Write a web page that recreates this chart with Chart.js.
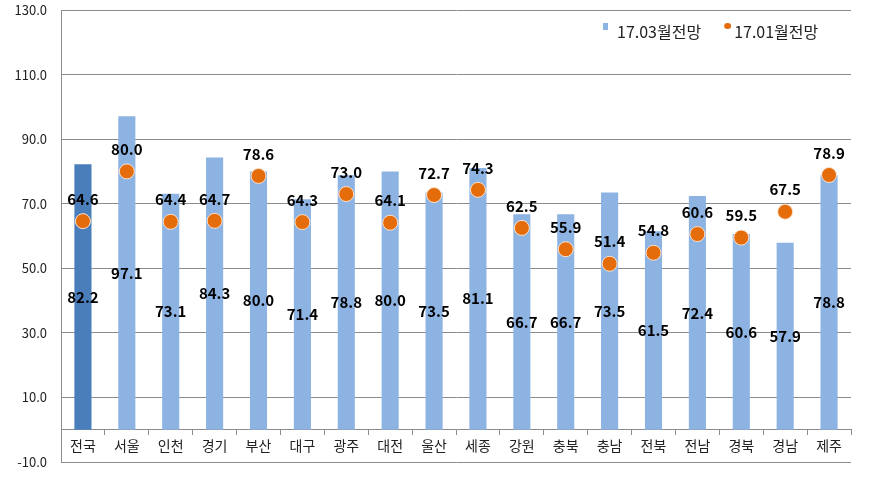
<!DOCTYPE html>
<html>
<head>
<meta charset="utf-8">
<script src="https://cdn.jsdelivr.net/npm/chart.js@4/dist/chart.umd.min.js"></script>
<style>
  html, body { margin: 0; padding: 0; background: #fff; }
  #wrap { position: relative; width: 869px; height: 504px; }
</style>
</head>
<body>
<div id="wrap"><canvas id="chart"></canvas></div>
<script>
const regions = ['전국', '서울', '인천', '경기', '부산', '대구', '광주', '대전', '울산', '세종', '강원', '충북', '충남', '전북', '전남', '경북', '경남', '제주'];
const outlook1703 = [82.2, 97.1, 73.1, 84.3, 80.0, 71.4, 78.8, 80.0, 73.5, 81.1, 66.7, 66.7, 73.5, 61.5, 72.4, 60.6, 57.9, 78.8];
const outlook1701 = [64.6, 80.0, 64.4, 64.7, 78.6, 64.3, 73.0, 64.1, 72.7, 74.3, 62.5, 55.9, 51.4, 54.8, 60.6, 59.5, 67.5, 78.9];
const yTicks = [-10, 10, 30, 50, 70, 90, 110, 130];

const FONT = "'Noto Sans CJK KR', 'Malgun Gothic', sans-serif";
const GRID = '#8c8c8c';
const BAR = '#8db3e2';
const BAR_FIRST = '#4a7ebb';
const DOT = '#e46c0a';

// value labels: bars in the middle, dots above the marker
const valueLabels = {
  id: 'valueLabels',
  afterDatasetsDraw(chart) {
    const ctx = chart.ctx;
    ctx.save();
    ctx.font = 'bold 15px ' + FONT;
    ctx.fillStyle = '#000';
    ctx.textAlign = 'center';
    ctx.textBaseline = 'middle';
    chart.data.datasets.forEach((ds, i) => {
      const meta = chart.getDatasetMeta(i);
      meta.data.forEach((el, j) => {
        const txt = ds.data[j].toFixed(1);
        if (ds.type === 'bar') {
          ctx.fillText(txt, el.x, (el.y + el.base) / 2);
        } else {
          ctx.fillText(txt, el.x, el.y - 22);
        }
      });
    });
    ctx.restore();
  }
};

// legend drawn inside the plot, top right
const innerLegend = {
  id: 'innerLegend',
  afterDraw(chart) {
    const { ctx, chartArea } = chart;
    const y = chartArea.top + 22;
    let x = chartArea.right - 248;
    ctx.save();
    ctx.font = '16px ' + FONT;
    ctx.textBaseline = 'middle';
    chart.data.datasets.forEach((ds, i) => {
      if (i === 0) {
        ctx.fillStyle = BAR;
        ctx.fillRect(x, y - 9, 5, 7);
        x += 14;
      } else {
        ctx.fillStyle = DOT;
        ctx.beginPath();
        ctx.ellipse(x + 3.5, y - 6, 3.5, 3, 0, 0, Math.PI * 2);
        ctx.fill();
        x += 10;
      }
      ctx.fillStyle = '#222';
      ctx.fillText(ds.label, x, y);
      x += ctx.measureText(ds.label).width + 23;
    });
    ctx.restore();
  }
};

new Chart(document.getElementById('chart'), {
  data: {
    labels: regions,
    datasets: [
      {
        type: 'bar',
        label: '17.03월전망',
        data: outlook1703,
        backgroundColor: outlook1703.map((v, i) => i === 0 ? BAR_FIRST : BAR),
        barPercentage: 0.78,
        categoryPercentage: 0.5,
        order: 2
      },
      {
        type: 'line',
        label: '17.01월전망',
        data: outlook1701,
        showLine: false,
        pointRadius: 7.5,
        pointHoverRadius: 7.5,
        pointBackgroundColor: DOT,
        pointBorderColor: '#fbe3cf',
        pointBorderWidth: 1,
        order: 1
      }
    ]
  },
  options: {
    responsive: true,
    maintainAspectRatio: false,
    animation: false,
    layout: { padding: { left: 0, right: 18, top: 10, bottom: 42 } },
    plugins: {
      tooltip: { enabled: false },
      legend: { display: false }
    },
    scales: {
      x: {
        position: { y: 0 },
        offset: true,
        grid: {
          offset: true,
          drawOnChartArea: false,
          drawTicks: true,
          tickLength: 5,
          color: GRID
        },
        border: { display: true, color: GRID },
        ticks: {
          color: '#222',
          padding: 3,
          font: { family: FONT, size: 14 },
          maxRotation: 0,
          autoSkip: false
        }
      },
      y: {
        min: -10,
        max: 130,
        afterBuildTicks: (scale) => { scale.ticks = yTicks.map(v => ({ value: v })); },
        afterFit: (scale) => {
          scale.width = 61;
          scale.paddingTop = 0;
          scale.paddingBottom = 0;
        },
        grid: { color: GRID, drawTicks: false },
        border: { display: true, color: GRID },
        ticks: {
          color: '#222',
          padding: 14,
          font: { family: FONT, size: 13 },
          callback: (v) => Number(v).toFixed(1)
        }
      }
    }
  },
  plugins: [valueLabels, innerLegend]
});
</script>
</body>
</html>
